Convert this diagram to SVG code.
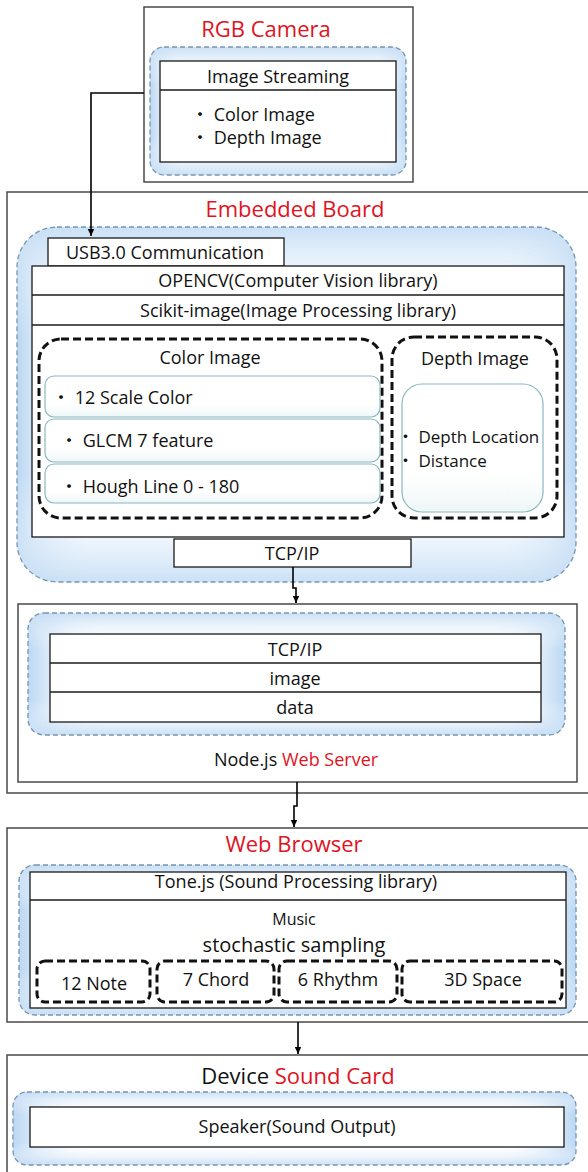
<svg xmlns="http://www.w3.org/2000/svg" width="588" height="1172" viewBox="0 0 588 1172">
<defs>
<linearGradient id="gh" x1="0" y1="0" x2="1" y2="0">
<stop offset="0" stop-color="#b7d5f2" stop-opacity="0.95"/>
<stop offset="0.06" stop-color="#d7e8f9" stop-opacity="0.6"/>
<stop offset="0.14" stop-color="#ffffff" stop-opacity="0"/>
<stop offset="0.86" stop-color="#ffffff" stop-opacity="0"/>
<stop offset="0.94" stop-color="#d7e8f9" stop-opacity="0.6"/>
<stop offset="1" stop-color="#b7d5f2" stop-opacity="0.95"/>
</linearGradient>
<linearGradient id="gv" x1="0" y1="0" x2="0" y2="1">
<stop offset="0" stop-color="#c4ddf5" stop-opacity="0.9"/>
<stop offset="0.15" stop-color="#e3eefa" stop-opacity="0.4"/>
<stop offset="0.3" stop-color="#ffffff" stop-opacity="0"/>
<stop offset="0.7" stop-color="#ffffff" stop-opacity="0"/>
<stop offset="0.85" stop-color="#e3eefa" stop-opacity="0.4"/>
<stop offset="1" stop-color="#c4ddf5" stop-opacity="0.9"/>
</linearGradient>
<linearGradient id="itemG" x1="0" y1="0" x2="0" y2="1">
<stop offset="0" stop-color="#ffffff"/>
<stop offset="0.7" stop-color="#ffffff"/>
<stop offset="1" stop-color="#eef6f7"/>
</linearGradient>
<marker id="arr" markerWidth="8" markerHeight="8" refX="7" refY="4" orient="auto" markerUnits="userSpaceOnUse">
<path d="M0,0.8 L7,4 L0,7.2 Z" fill="#000"/>
</marker>
</defs>
<style>
.box{fill:#fff;stroke:#4a4a4a;stroke-width:1.5}
.gb{fill:#fff}
.gh{fill:url(#gh)}
.gv{fill:url(#gv)}
.gs{fill:none;stroke:#7895b0;stroke-width:1.3;stroke-dasharray:5 3}
.row{fill:#fff;stroke:#1a1a1a;stroke-width:1.3}
.ln{stroke:#1a1a1a;stroke-width:1.3}
.bd{fill:none;stroke:#111;stroke-width:3;stroke-dasharray:8 4}
.item{fill:url(#itemG);stroke:#8ab6c0;stroke-width:1.2}
.t{font-family:'Open Sans','Liberation Sans','Noto Sans CJK KR',sans-serif;font-size:18px;fill:#111}
.s17{font-size:17px}
.c{text-anchor:middle}
.title{font-size:22px}
.red{fill:#e0131f}
.conn{stroke:#000;stroke-width:1.6;fill:none}
</style>

<g id="rgb-camera">
<rect class="box" x="144" y="7" width="269" height="175"/>
<text class="t c title red" x="266" y="37">RGB Camera</text>
<rect class="gb" x="150" y="47" width="256" height="128" rx="14"/>
<rect class="gh" x="150" y="47" width="256" height="128" rx="14"/>
<rect class="gv" x="150" y="47" width="256" height="128" rx="14"/>
<rect class="gs" x="150" y="47" width="256" height="128" rx="14"/>
<rect class="row" x="160" y="61" width="236" height="101"/>
<line class="ln" x1="160" y1="90" x2="396" y2="90"/>
<text class="t c" x="278" y="83">Image Streaming</text>
<text class="t" x="191" y="121">・ Color Image</text>
<text class="t" x="191" y="144">・ Depth Image</text>
</g>

<g id="embedded-board">
<rect class="box" x="7" y="192" width="590" height="601"/>
<text class="t c title red" x="295" y="217">Embedded Board</text>
<rect class="gb" x="17" y="227" width="559" height="355" rx="40"/>
<rect class="gh" x="17" y="227" width="559" height="355" rx="40"/>
<rect class="gv" x="17" y="227" width="559" height="355" rx="40"/>
<rect class="gs" x="17" y="227" width="559" height="355" rx="40"/>
<rect class="row" x="48" y="238" width="236" height="28"/>
<text class="t c" x="165" y="259">USB3.0 Communication</text>
<rect class="row" x="32" y="266" width="532" height="271"/>
<line class="ln" x1="32" y1="295" x2="564" y2="295"/>
<line class="ln" x1="32" y1="325" x2="564" y2="325"/>
<text class="t c" x="298" y="287">OPENCV(Computer Vision library)</text>
<text class="t c" x="298" y="317">Scikit-image(Image Processing library)</text>
<g id="color-image">
<rect class="bd" x="39" y="339" width="343" height="179" rx="22"/>
<text class="t c" x="210" y="364">Color Image</text>
<rect class="item" x="45" y="376" width="335" height="41" rx="9"/>
<rect class="item" x="45" y="419" width="335" height="43" rx="9"/>
<rect class="item" x="45" y="464" width="335" height="39" rx="9"/>
<text class="t" x="52" y="404">・ 12 Scale Color</text>
<text class="t" x="60" y="447">・ GLCM 7 feature</text>
<text class="t" x="60" y="493">・ Hough Line 0 - 180</text>
</g>
<g id="depth-image">
<rect class="bd" x="392" y="337" width="165" height="181" rx="22"/>
<text class="t c" x="475" y="365">Depth Image</text>
<rect class="item" x="402" y="384" width="141" height="128" rx="20"/>
<text class="t s17" x="397" y="443">・ Depth Location</text>
<text class="t s17" x="397" y="467">・ Distance</text>
</g>
<rect class="row" x="174" y="539" width="237" height="28"/>
<text class="t c" x="292" y="560">TCP/IP</text>
</g>

<g id="node-web-server">
<rect class="box" x="18" y="604" width="559" height="178"/>
<rect class="gb" x="28" y="613" width="537" height="122" rx="16"/>
<rect class="gh" x="28" y="613" width="537" height="122" rx="16"/>
<rect class="gv" x="28" y="613" width="537" height="122" rx="16"/>
<rect class="gs" x="28" y="613" width="537" height="122" rx="16"/>
<rect class="row" x="50" y="634" width="491" height="88"/>
<line class="ln" x1="50" y1="663" x2="541" y2="663"/>
<line class="ln" x1="50" y1="692" x2="541" y2="692"/>
<text class="t c" x="295" y="656">TCP/IP</text>
<text class="t c" x="295" y="685">image</text>
<text class="t c" x="295" y="714">data</text>
<text class="t c" x="296" y="766">Node.js <tspan class="red">Web Server</tspan></text>
</g>

<g id="web-browser">
<rect class="box" x="7" y="828" width="590" height="194"/>
<text class="t c title red" x="294" y="852">Web Browser</text>
<rect class="gb" x="19" y="865" width="557" height="150" rx="16"/>
<rect class="gh" x="19" y="865" width="557" height="150" rx="16"/>
<rect class="gv" x="19" y="865" width="557" height="150" rx="16"/>
<rect class="gs" x="19" y="865" width="557" height="150" rx="16"/>
<rect class="row" x="30" y="872" width="536" height="136"/>
<line class="ln" x1="30" y1="900" x2="566" y2="900"/>
<text class="t c" x="296" y="888">Tone.js (Sound Processing library)</text>
<text class="t c" x="294" y="925" style="font-size:16px">Music</text>
<text class="t c" x="294" y="952" style="font-size:20px">stochastic sampling</text>
<rect class="bd" x="37" y="961" width="113" height="41" rx="8"/>
<text class="t c" x="94" y="990">12 Note</text>
<rect class="bd" x="157" y="961" width="117" height="41" rx="8"/>
<text class="t c" x="216" y="986">7 Chord</text>
<rect class="bd" x="279" y="961" width="118" height="41" rx="8"/>
<text class="t c" x="338" y="986">6 Rhythm</text>
<rect class="bd" x="402" y="961" width="160" height="41" rx="8"/>
<text class="t c" x="483" y="986">3D Space</text>
</g>

<g id="sound-card">
<rect class="box" x="7" y="1055" width="590" height="125"/>
<text class="t c title" x="298" y="1084">Device <tspan class="red">Sound Card</tspan></text>
<rect class="gb" x="13" y="1092" width="563" height="73" rx="14"/>
<rect class="gh" x="13" y="1092" width="563" height="73" rx="14"/>
<rect class="gv" x="13" y="1092" width="563" height="73" rx="14"/>
<rect class="gs" x="13" y="1092" width="563" height="73" rx="14"/>
<rect class="row" x="30" y="1107" width="534" height="40"/>
<text class="t c" x="297" y="1133">Speaker(Sound Output)</text>
</g>

<g id="connectors">
<path class="conn" d="M144 93 H91 V236" marker-end="url(#arr)"/>
<path class="conn" d="M293 567 V588 H296 V603" marker-end="url(#arr)"/>
<path class="conn" d="M297 782 V806 H294 V827" marker-end="url(#arr)"/>
<path class="conn" d="M298 1022 V1054" marker-end="url(#arr)"/>
</g>
</svg>
